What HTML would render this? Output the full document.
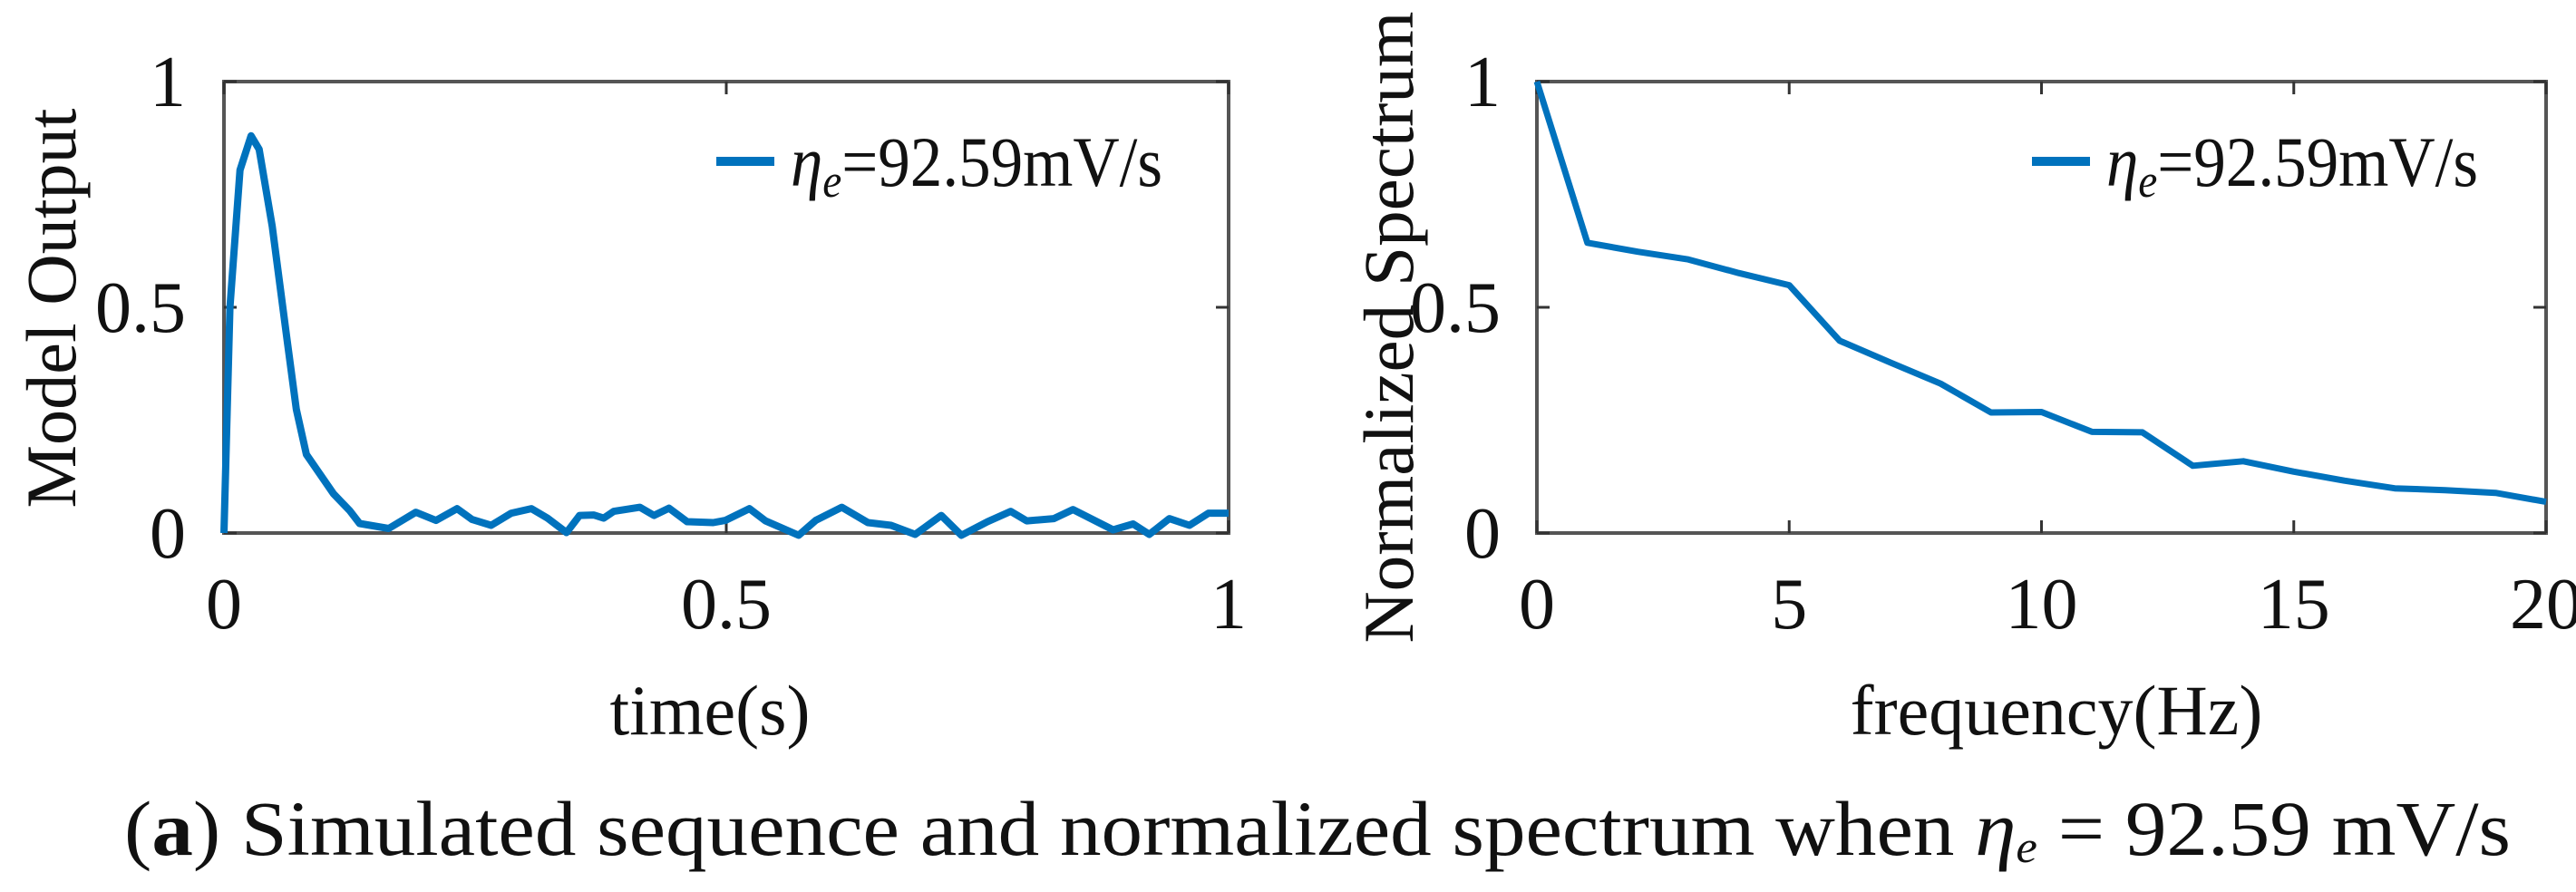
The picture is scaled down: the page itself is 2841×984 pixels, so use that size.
<!DOCTYPE html>
<html><head><meta charset="utf-8"><style>
html,body{margin:0;padding:0;background:#fff;}
svg{display:block;}
text{font-family:"Liberation Serif",serif;fill:#111;}
</style></head><body>
<svg id="fig" width="2841" height="984" viewBox="0 0 2841 984" xmlns="http://www.w3.org/2000/svg">
<g id="left"></g>
<g id="right"></g>
<text x="137" y="943" font-size="86" textLength="2632" lengthAdjust="spacingAndGlyphs">(<tspan font-weight="bold">a</tspan>) Simulated sequence and normalized spectrum when <tspan font-style="italic">η</tspan><tspan font-style="italic" font-size="50" dy="8">e</tspan><tspan dy="-8"> = 92.59 mV/s</tspan></text>
</svg>
<script>
const timeValues = [0,0.006,0.016,0.027,0.035,0.048,0.063,0.072,0.082,0.109,0.125,0.135,0.164,0.191,0.211,0.232,0.247,0.266,0.286,0.306,0.322,0.341,0.354,0.368,0.378,0.388,0.414,0.428,0.443,0.461,0.487,0.499,0.523,0.539,0.572,0.589,0.615,0.641,0.664,0.688,0.714,0.734,0.760,0.783,0.799,0.826,0.845,0.885,0.905,0.921,0.941,0.961,0.980,1.0];
const outputValues = [0,0.5,0.804,0.88,0.85,0.68,0.425,0.274,0.174,0.087,0.05,0.021,0.010,0.046,0.028,0.054,0.030,0.017,0.044,0.054,0.033,0.001,0.039,0.040,0.033,0.048,0.057,0.039,0.055,0.025,0.023,0.028,0.054,0.027,-0.005,0.028,0.057,0.023,0.017,-0.003,0.039,-0.005,0.025,0.048,0.027,0.032,0.052,0.007,0.020,-0.003,0.032,0.017,0.044,0.044];
const freqValues = [0,1,2,3,4,5,6,7,8,9,10,11,12,13,14,15,16,17,18,19,20];
const spectrumValues = [1.0,0.643,0.623,0.606,0.576,0.549,0.426,0.378,0.331,0.267,0.268,0.224,0.223,0.149,0.159,0.136,0.116,0.099,0.095,0.089,0.069];
const leftXTicks = [0,0.5,1];
const leftXTickLabels = ["0","0.5","1"];
const yTicks = [0,0.5,1];
const yTickLabels = ["0","0.5","1"];
const rightXTicks = [0,5,10,15,20];
const rightXTickLabels = ["0","5","10","15","20"];

const NS="http://www.w3.org/2000/svg";
function mk(parent,tag,attrs){const e=document.createElementNS(NS,tag);for(const k in attrs)e.setAttribute(k,attrs[k]);parent.appendChild(e);return e;}

function drawChart(g,cfg){
  const L=cfg.L,R=cfg.R,T=90,B=588;
  const sx=v=>L+(v-cfg.xmin)/(cfg.xmax-cfg.xmin)*(R-L);
  const sy=v=>B-(v-0)/(1-0)*(B-T);
  const frame=mk(g,'rect',{x:L,y:T,width:R-L,height:B-T,fill:'none',stroke:'#555',"stroke-width":4});
  
  
  cfg.xt.forEach((t,i)=>{
    const x=sx(t);
    const tk=mk(g,'path',{d:`M${x},${B}V${B-14}M${x},${T}V${T+14}`,stroke:'#333',"stroke-width":3});
    
    
    const lb=mk(g,'text',{x:x,y:693,"font-size":80,"text-anchor":"middle"});
    lb.textContent=cfg.xl[i];
    
    
  });
  yTicks.forEach((t,i)=>{
    const y=sy(t);
    const tk=mk(g,'path',{d:`M${L},${y}H${L+14}M${R},${y}H${R-14}`,stroke:'#333',"stroke-width":3});
    
    
    const lb=mk(g,'text',{x:cfg.ylx,y:y+27,"font-size":80,"text-anchor":"end"});
    lb.textContent=yTickLabels[i];
    
    
  });
  const pts=cfg.xs.map((v,i)=>sx(v).toFixed(1)+','+sy(cfg.ys[i]).toFixed(1)).join(' ');
  const line=mk(g,'polyline',{points:pts,fill:'none',stroke:'#0072BD',"stroke-width":cfg.lw,"stroke-linejoin":"round"});
  
  
  const lg=mk(g,'line',{x1:cfg.legX,y1:178,x2:cfg.legX+64,y2:178,stroke:'#0072BD',"stroke-width":10});
  
  
  const lt=mk(g,'text',{x:cfg.legX+82,y:205,"font-size":78,textLength:410,lengthAdjust:"spacingAndGlyphs"});
  lt.innerHTML='<tspan font-style="italic">η</tspan><tspan font-style="italic" font-size="52" dy="12">e</tspan><tspan dy="-12">=92.59mV/s</tspan>';
  
  
  const xt=mk(g,'text',{x:cfg.xlabX,y:810,"font-size":78,"text-anchor":"middle"});
  xt.textContent=cfg.xlab;
  
  
  const yt=mk(g,'text',{x:0,y:0,"font-size":78,"text-anchor":"middle",textLength:cfg.ylabLen,lengthAdjust:"spacingAndGlyphs",transform:`translate(${cfg.ylabX},${cfg.ylabY}) rotate(-90)`});
  yt.textContent=cfg.ylab;
  
  
}
drawChart(document.getElementById('left'),{L:247,R:1355,xmin:0,xmax:1,xt:leftXTicks,xl:leftXTickLabels,xs:timeValues,ys:outputValues,lw:8,ylx:205,legX:790,xlabX:783,xlab:"time(s)",ylabX:83,ylabY:340,ylabLen:441,ylab:"Model Output"});
drawChart(document.getElementById('right'),{L:1695,R:2808,xmin:0,xmax:20,xt:rightXTicks,xl:rightXTickLabels,xs:freqValues,ys:spectrumValues,lw:7,ylx:1655,legX:2241,xlabX:2268,xlab:"frequency(Hz)",ylabX:1558,ylabY:361,ylabLen:697,ylab:"Normalized Spectrum"});
</script>
</body></html>
